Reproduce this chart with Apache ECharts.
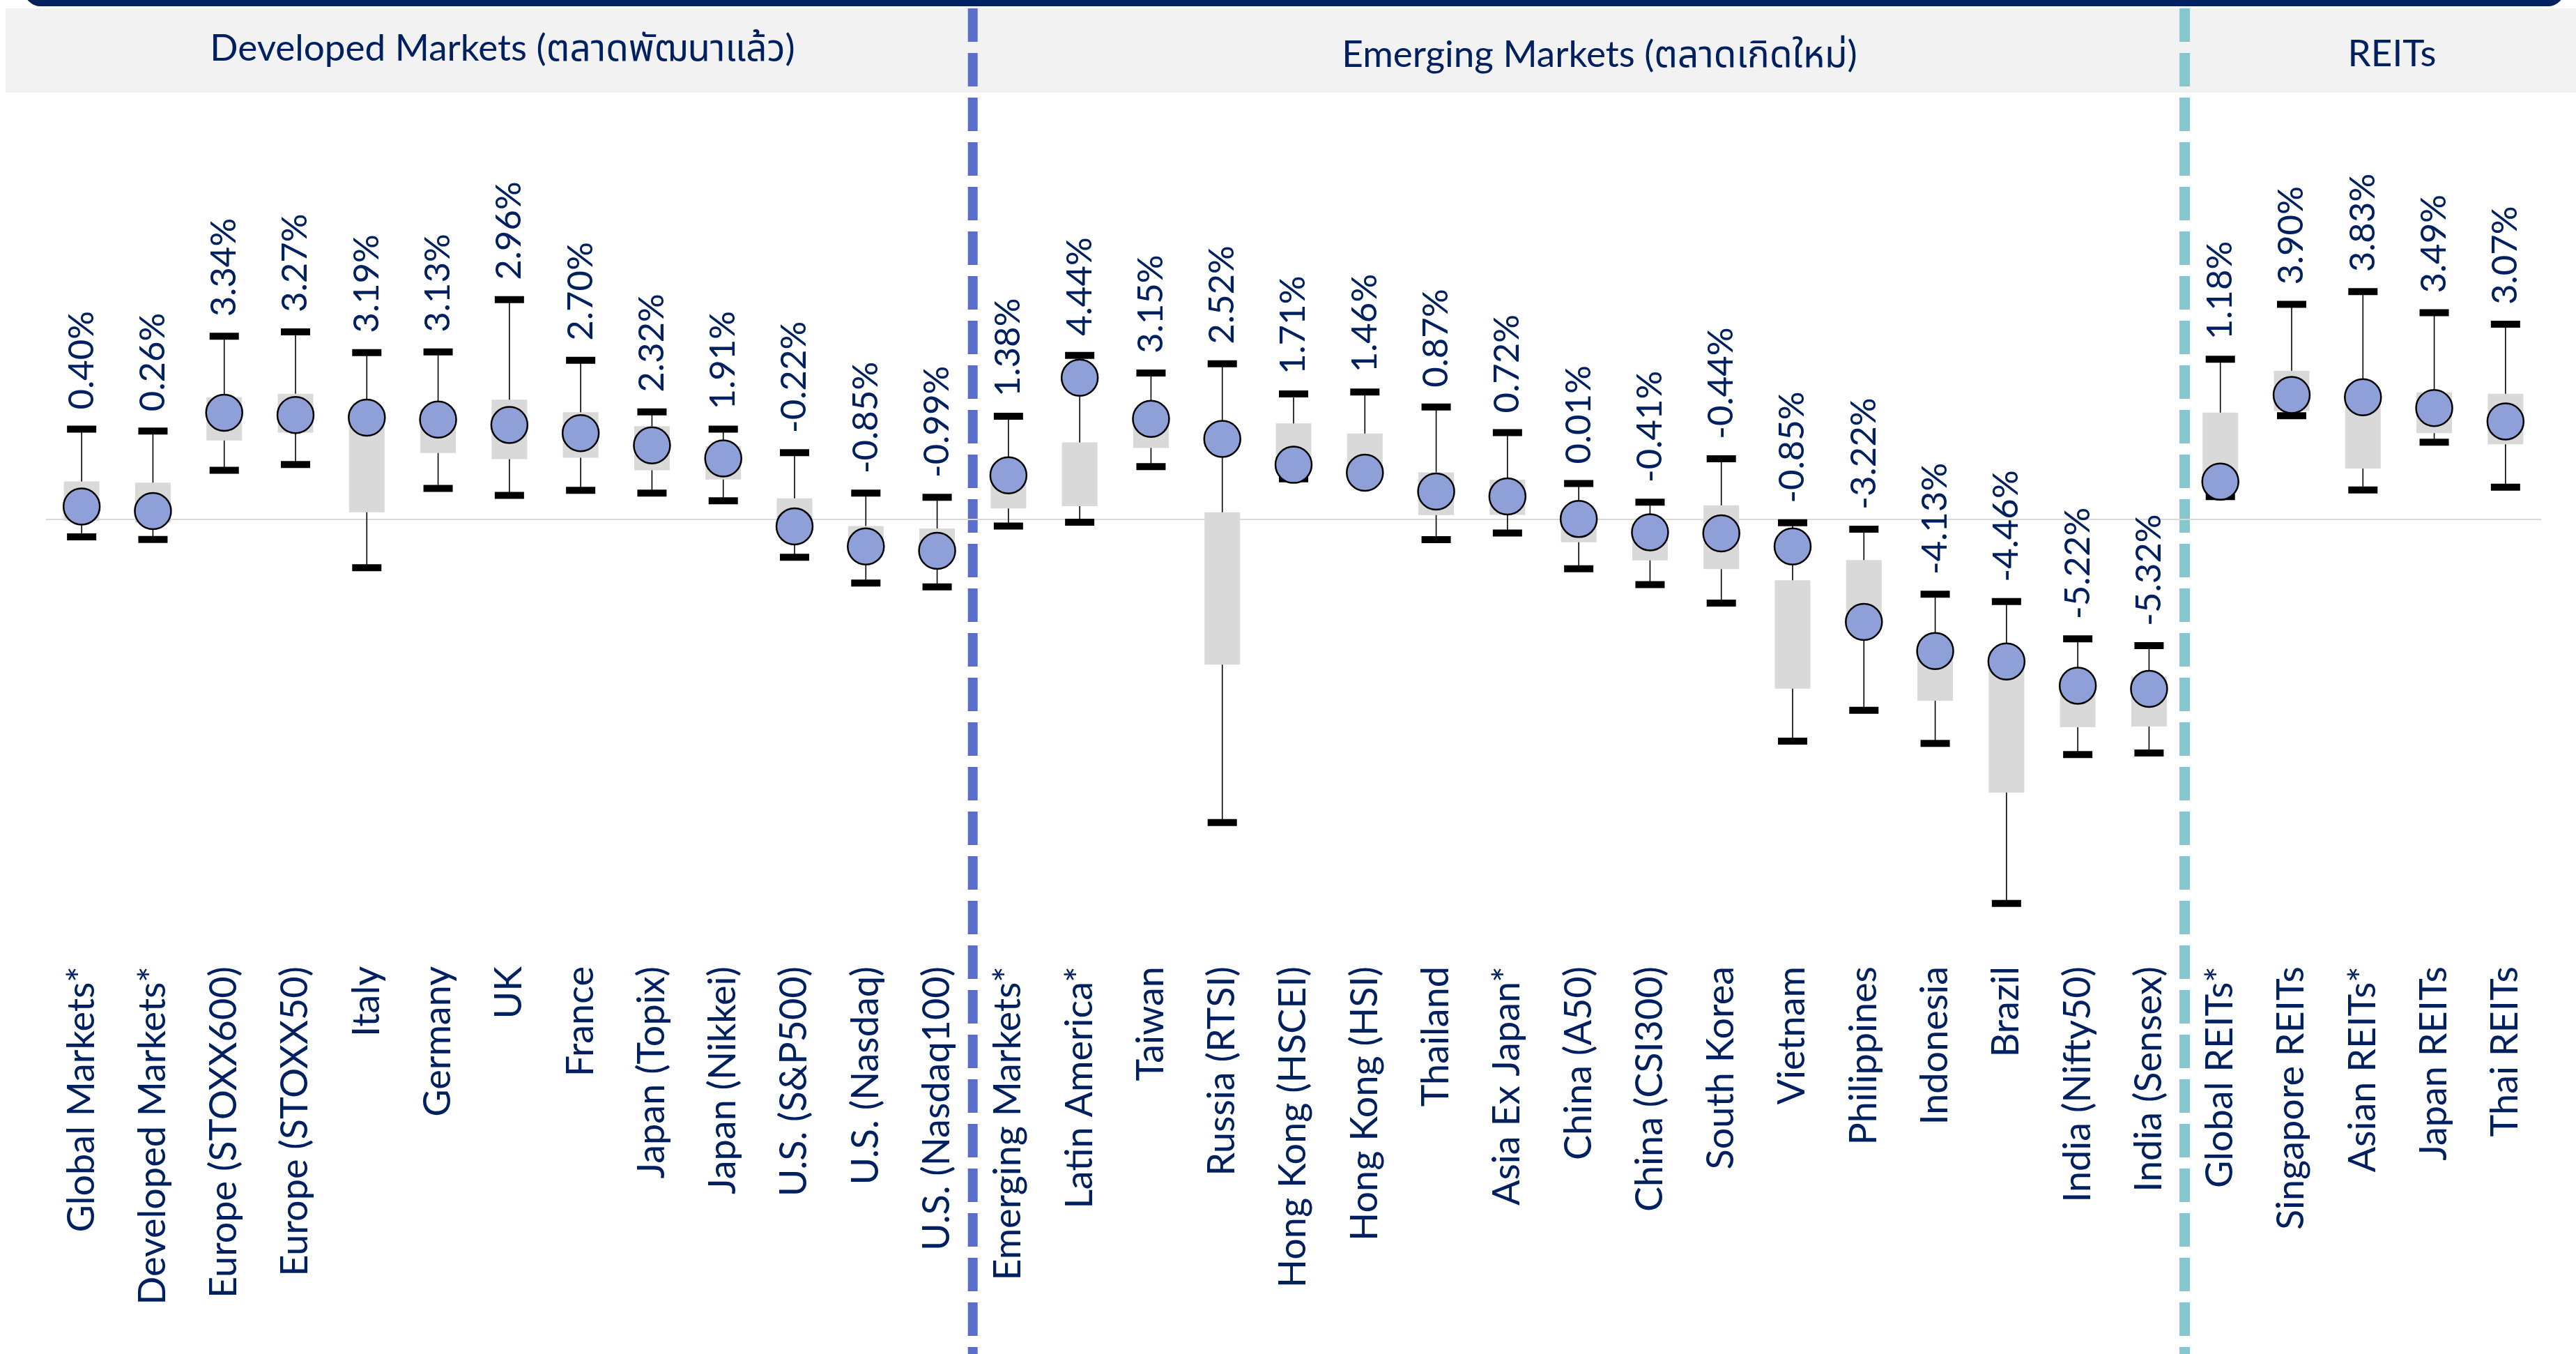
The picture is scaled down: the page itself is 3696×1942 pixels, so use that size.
<!DOCTYPE html>
<html>
<head>
<meta charset="utf-8">
<title>Market valuation ranges</title>
<script src="https://cdn.jsdelivr.net/npm/echarts@6/dist/echarts.min.js"></script>
<style>
  html, body { margin: 0; padding: 0; background: #ffffff; }
  #chart { width: 3696px; height: 1942px; }
</style>
</head>
<body>
<div id="chart"></div>
<script>
// Markets shown along the x axis, grouped as Developed / Emerging / REITs
const categories = [
  'Global Markets*', 'Developed Markets*', 'Europe (STOXX600)', 'Europe (STOXX50)', 'Italy', 'Germany', 'UK',
  'France', 'Japan (Topix)', 'Japan (Nikkei)', 'U.S. (S&P500)', 'U.S. (Nasdaq)', 'U.S. (Nasdaq100)',
  'Emerging Markets*', 'Latin America*', 'Taiwan', 'Russia (RTSI)', 'Hong Kong (HSCEI)', 'Hong Kong (HSI)',
  'Thailand', 'Asia Ex Japan*', 'China (A50)', 'China (CSI300)', 'South Korea', 'Vietnam', 'Philippines',
  'Indonesia', 'Brazil', 'India (Nifty50)', 'India (Sensex)',
  'Global REITs*', 'Singapore REITs', 'Asian REITs*', 'Japan REITs', 'Thai REITs'
];

// Current reading (%), shown as the circle and its label
const current = [
  0.40, 0.26, 3.34, 3.27, 3.19, 3.13, 2.96, 2.70, 2.32, 1.91, -0.22, -0.85, -0.99,
  1.38, 4.44, 3.15, 2.52, 1.71, 1.46, 0.87, 0.72, 0.01, -0.41, -0.44, -0.85, -3.22,
  -4.13, -4.46, -5.22, -5.32,
  1.18, 3.90, 3.83, 3.49, 3.07
];

// Whisker top (%)
const high = [
  2.83, 2.77, 5.74, 5.88, 5.23, 5.25, 6.89, 4.99, 3.37, 2.83, 2.09, 0.82, 0.69,
  3.23, 5.14, 4.59, 4.88, 3.93, 3.99, 3.52, 2.72, 1.12, 0.54, 1.90, -0.11, -0.31,
  -2.35, -2.58, -3.75, -3.96,
  5.02, 6.74, 7.14, 6.48, 6.12
];

// Upper edge of the grey range box (%)
const boxTop = [
  1.19, 1.15, 3.83, 3.94, 3.25, 3.45, 3.75, 3.36, 2.92, 2.30, 0.66, -0.21, -0.29,
  1.60, 2.41, 3.30, 0.22, 3.01, 2.69, 1.47, 1.24, 0.30, -0.15, 0.44, -1.91, -1.28,
  -3.90, -4.30, -5.00, -4.93,
  3.35, 4.66, 4.00, 3.98, 3.94
];

// Lower edge of the grey range box (%)
const boxBottom = [
  -0.05, -0.10, 2.47, 2.72, 0.22, 2.08, 1.89, 1.93, 1.54, 1.25, -0.35, -1.00, -1.10,
  0.34, 0.41, 2.24, -4.56, 1.50, 1.30, 0.13, 0.14, -0.72, -1.29, -1.56, -5.31, -2.98,
  -5.69, -8.57, -6.52, -6.50,
  0.95, 3.40, 1.59, 2.70, 2.35
];

// Whisker bottom (%)
const low = [
  -0.55, -0.63, 1.54, 1.72, -1.52, 0.97, 0.75, 0.91, 0.82, 0.58, -1.19, -2.00, -2.12,
  -0.21, -0.09, 1.65, -9.51, 1.27, 1.20, -0.64, -0.43, -1.55, -2.05, -2.63, -6.96, -5.99,
  -7.03, -12.05, -7.38, -7.33,
  0.71, 3.25, 0.92, 2.42, 1.01
];

// Section headings and how many markets each section holds
const groupTitles = ['Developed Markets (ตลาดพัฒนาแล้ว)', 'Emerging Markets (ตลาดเกิดใหม่)', 'REITs'];
const groupSizes = [13, 17, 5];

const NAVY = '#002060';
const FONT = 'Lato, "Noto Sans", "Noto Sans Thai", sans-serif';

const chart = echarts.init(document.getElementById('chart'), null, { renderer: 'canvas' });

const seriesData = categories.map((c, i) => [i, high[i], boxTop[i], boxBottom[i], low[i], current[i]]);

// One market: whisker, grey range box, caps, current-value circle and its label
function renderRange(params, api) {
  const idx = api.value(0);
  const pHigh = api.coord([idx, api.value(1)]);
  const pTop = api.coord([idx, api.value(2)]);
  const pBottom = api.coord([idx, api.value(3)]);
  const pLow = api.coord([idx, api.value(4)]);
  const pCur = api.coord([idx, api.value(5)]);
  const x = pHigh[0];
  const boxW = 51, capW = 42, capH = 10, r = 26;
  const val = api.value(5);
  return {
    type: 'group',
    children: [
      { type: 'line', shape: { x1: x, y1: pHigh[1], x2: x, y2: pLow[1] },
        style: { stroke: '#000000', lineWidth: 1.6 } },
      { type: 'rect', shape: { x: x - boxW / 2, y: pTop[1], width: boxW, height: pBottom[1] - pTop[1] },
        style: { fill: '#D9D9D9' } },
      { type: 'rect', shape: { x: x - capW / 2, y: pHigh[1] - capH / 2, width: capW, height: capH },
        style: { fill: '#000000' } },
      { type: 'rect', shape: { x: x - capW / 2, y: pLow[1] - capH / 2, width: capW, height: capH },
        style: { fill: '#000000' } },
      { type: 'circle', shape: { cx: x, cy: pCur[1], r: r },
        style: { fill: '#8FA0D9', stroke: '#000000', lineWidth: 2.5 } },
      { type: 'text', x: x, y: pHigh[1] - 28, rotation: Math.PI / 2,
        style: { text: val.toFixed(2) + '%', fill: NAVY, font: '51px ' + FONT,
                 align: 'left', verticalAlign: 'middle' } }
    ]
  };
}

const option = {
  animation: false,
  backgroundColor: '#ffffff',
  grid: { left: 66, right: 50, top: 379, bottom: 557, containLabel: false },
  xAxis: {
    type: 'category',
    data: categories,
    axisLine: { show: false },
    axisTick: { show: false },
    splitLine: { show: false },
    axisLabel: {
      interval: 0, rotate: 90, margin: 1,
      color: NAVY, fontFamily: FONT, fontSize: 54
    }
  },
  yAxis: {
    type: 'value', min: -14, max: 8,
    show: false
  },
  series: [
    {
      type: 'line', data: [], silent: true,
      markLine: {
        silent: true, symbol: ['none', 'none'],
        label: { show: false },
        lineStyle: { color: '#D9D9D9', width: 2, type: 'solid' },
        data: [{ yAxis: 0 }]
      }
    },
    {
      type: 'custom',
      renderItem: renderRange,
      encode: { x: 0, y: [1, 2, 3, 4, 5] },
      data: seriesData,
      z: 5
    }
  ]
};

chart.setOption(option);

// Section dividers sit halfway between the last market of one group and the first of the next
const split1 = groupSizes[0];
const split2 = groupSizes[0] + groupSizes[1];
const px = (i) => chart.convertToPixel({ xAxisIndex: 0 }, i);
const div1 = (px(split1 - 1) + px(split1)) / 2;
const div2 = (px(split2 - 1) + px(split2)) / 2;

chart.setOption({
  graphic: [
    // top navy strip with rounded lower corners
    { type: 'rect', z: 1, shape: { x: 34, y: -40, width: 3646, height: 49, r: 32 },
      style: { fill: NAVY } },
    // grey heading band
    { type: 'rect', z: 1, shape: { x: 8, y: 12, width: 3688, height: 121 },
      style: { fill: '#F2F2F2' } },
    { type: 'text', z: 3, x: 721, y: 70,
      style: { text: groupTitles[0], fill: NAVY, font: '53px ' + FONT, align: 'center', verticalAlign: 'middle' } },
    { type: 'text', z: 3, x: 2295, y: 79,
      style: { text: groupTitles[1], fill: NAVY, font: '53px ' + FONT, align: 'center', verticalAlign: 'middle' } },
    { type: 'text', z: 3, x: 3432, y: 78,
      style: { text: groupTitles[2], fill: NAVY, font: '53px ' + FONT, align: 'center', verticalAlign: 'middle' } },
    // dashed section dividers
    { type: 'line', z: 2, shape: { x1: div1, y1: 12, x2: div1, y2: 1942 },
      style: { stroke: '#5B6FCA', lineWidth: 14, lineDash: [48, 16] } },
    { type: 'line', z: 2, shape: { x1: div2, y1: 12, x2: div2, y2: 1942 },
      style: { stroke: '#86C7CE', lineWidth: 15, lineDash: [48, 16] } }
  ]
});
</script>
</body>
</html>
